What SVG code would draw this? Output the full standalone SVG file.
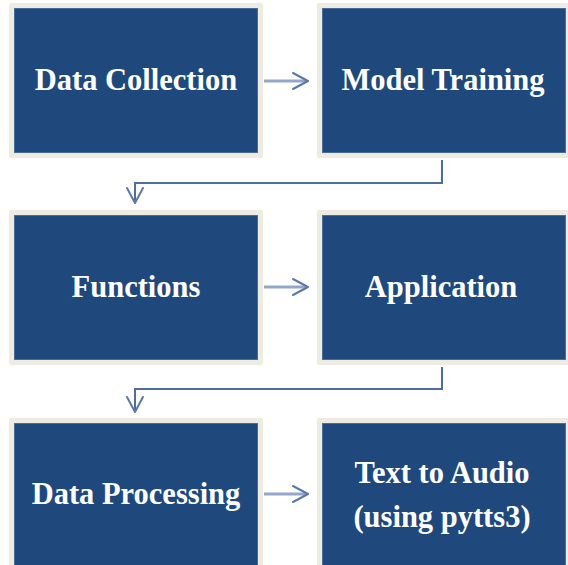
<svg xmlns="http://www.w3.org/2000/svg" width="568" height="565" viewBox="0 0 568 565">
  <defs>
    <style>
      .frame { fill: #EEECE1; }
      .box { fill: #1F497D; stroke: #4A6C9C; stroke-width: 1; }
      .label { font-family: "Liberation Serif", "Times New Roman", serif; font-weight: bold; font-size: 30.5px; fill: #FFFFFF; text-anchor: middle; }
      .elbow { fill: none; stroke: #4E6E9F; stroke-width: 2; stroke-linejoin: miter; }
      .shaft { fill: none; stroke: #93A8C8; stroke-width: 3; }
      .head { fill: none; stroke: #5B79A8; stroke-width: 2; stroke-linecap: round; stroke-linejoin: round; }
    </style>
  </defs>
  <rect width="568" height="565" fill="#FFFFFF"/>

  <g id="data-collection">
    <rect class="frame" x="9" y="3" width="254" height="155" rx="2"/>
    <rect class="box" x="14.5" y="8.5" width="243" height="144"/>
    <text class="label" x="136" y="90">Data Collection</text>
  </g>

  <g id="model-training">
    <rect class="frame" x="317" y="3" width="254" height="155" rx="2"/>
    <rect class="box" x="322.5" y="8.5" width="243" height="144"/>
    <text class="label" x="443" y="90">Model Training</text>
  </g>

  <g id="functions">
    <rect class="frame" x="9" y="210" width="254" height="155" rx="2"/>
    <rect class="box" x="14.5" y="215.5" width="243" height="144"/>
    <text class="label" x="136" y="297">Functions</text>
  </g>

  <g id="application">
    <rect class="frame" x="317" y="210" width="254" height="155" rx="2"/>
    <rect class="box" x="322.5" y="215.5" width="243" height="144"/>
    <text class="label" x="441" y="297">Application</text>
  </g>

  <g id="data-processing">
    <rect class="frame" x="9" y="418" width="254" height="160" rx="2"/>
    <rect class="box" x="14.5" y="423.5" width="243" height="150"/>
    <text class="label" x="136" y="504">Data Processing</text>
  </g>

  <g id="text-to-audio">
    <rect class="frame" x="317" y="418" width="254" height="160" rx="2"/>
    <rect class="box" x="322.5" y="423.5" width="243" height="150"/>
    <text class="label" x="442" y="483">Text to Audio</text>
    <text class="label" x="442" y="527">(using pytts3)</text>
  </g>

  <g id="connectors">
    <!-- row 1: Data Collection -> Model Training -->
    <line class="shaft" x1="264" y1="81" x2="306" y2="81"/>
    <polyline class="head" points="293,73 308,81 293,89"/>
    <!-- Model Training -> Functions -->
    <polyline class="elbow" points="442,160 442,183 135,183 135,202"/>
    <polyline class="head" points="127,188 135,203 143,188"/>
    <!-- row 2: Functions -> Application -->
    <line class="shaft" x1="264" y1="287" x2="306" y2="287"/>
    <polyline class="head" points="293,279 308,287 293,295"/>
    <!-- Application -> Data Processing -->
    <polyline class="elbow" points="442,367 442,389 135,389 135,411"/>
    <polyline class="head" points="127,397 135,412 143,397"/>
    <!-- row 3: Data Processing -> Text to Audio -->
    <line class="shaft" x1="264" y1="494" x2="306" y2="494"/>
    <polyline class="head" points="293,486 308,494 293,502"/>
  </g>
</svg>
